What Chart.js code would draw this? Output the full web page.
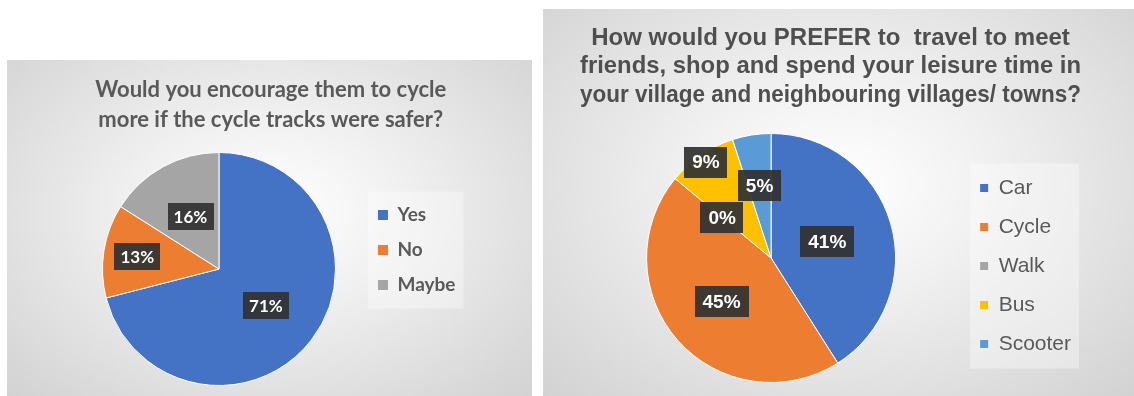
<!DOCTYPE html>
<html>
<head>
<meta charset="utf-8">
<script src="https://cdn.jsdelivr.net/npm/chart.js@4.4.1/dist/chart.umd.min.js"></script>
<style>
  html, body { margin: 0; padding: 0; background: #fff; }
  body { width: 1134px; height: 396px; position: relative; overflow: hidden; }
  .box { position: absolute; background: radial-gradient(ellipse at 50% 45%, #ffffff 0%, #f1f1f1 35%, #d2d2d2 100%); }
  .box canvas { display: block; }
  #boxLeft { left: 7px; top: 60px; width: 525px; height: 336px; }
  #boxRight { left: 543px; top: 9px; width: 591px; height: 387px; }
</style>
</head>
<body>
<div class="box" id="boxLeft"><canvas id="chartLeft" width="525" height="336"></canvas></div>
<div class="box" id="boxRight"><canvas id="chartRight" width="591" height="387"></canvas></div>
<script>
// left chart data
const encourageTitle  = ['Would you encourage them to cycle', 'more if the cycle tracks were safer?'];
const encourageLabels = ['Yes', 'No', 'Maybe'];
const encourageValues = [71, 13, 16];

// right chart data
const preferTitle  = ['How would you PREFER to  travel to meet', 'friends, shop and spend your leisure time in', 'your village and neighbouring villages/ towns?'];
const preferLabels = ['Car', 'Cycle', 'Walk', 'Bus', 'Scooter'];
const preferValues = [41, 45, 0, 9, 5];

// office palette
const officeColors = ['#4472C4', '#ED7D31', '#A5A5A5', '#FFC000', '#5B9BD5'];

// where the % boxes sit, as part of the radius
const encourageLabelPos = [0.51, 0.71, 0.51];
const preferLabelPos    = [0.47, 0.53, 0.51, 0.93, 0.59];

// legend squares without the white border
function noStroke(chart) {
	return Chart.overrides.doughnut.plugins.legend.labels.generateLabels(chart).map(function(item) {
		item.lineWidth = 0;
		return item;
	});
}

// faint panel behind the legend
const legendPanel = {
	id: 'legendPanel',
	beforeDraw(chart) {
		let boxes = chart.legend && chart.legend.legendHitBoxes;
		if (!boxes || !boxes.length) return;
		let left = Math.min.apply(null, boxes.map(b => b.left)) - 10;
		let right = Math.max.apply(null, boxes.map(b => b.left + b.width)) + 8;
		let last = boxes[boxes.length - 1];
		let top = boxes[0].top - 14;
		let bottom = last.top + last.height + 14;
		let ctx = chart.ctx;
		ctx.save();
		ctx.fillStyle = 'rgba(255,255,255,0.35)';
		ctx.fillRect(left, top, right - left, bottom - top);
		ctx.restore();
	}
};

// dark boxes with the percentages
function sliceLabels(family, size, padX, padY, positions) {
	return {
		id: 'sliceLabels',
		afterDatasetsDraw(chart) {
			let ctx = chart.ctx;
			let values = chart.data.datasets[0].data;
			let total = values.reduce((a, b) => a + b, 0);
			ctx.save();
			ctx.font = 'bold ' + size + 'px "' + family + '"';
			ctx.textAlign = 'center';
			ctx.textBaseline = 'middle';
			chart.getDatasetMeta(0).data.forEach(function(arc, i) {
				let p = arc.getProps(['x', 'y', 'startAngle', 'endAngle', 'outerRadius']);
				let mid = (p.startAngle + p.endAngle) / 2;
				let r = p.outerRadius * positions[i];
				let x = p.x + Math.cos(mid) * r;
				let y = p.y + Math.sin(mid) * r;
				let text = Math.round(values[i] / total * 100) + '%';
				let w = ctx.measureText(text).width + padX * 2;
				let h = size + padY * 2;
				ctx.fillStyle = 'rgba(50,50,50,0.93)';
				ctx.fillRect(Math.round(x - w / 2), Math.round(y - h / 2), Math.round(w), h);
				ctx.fillStyle = '#ffffff';
				ctx.fillText(text, x, y + 1);
			});
			ctx.restore();
		}
	};
}

new Chart(document.getElementById('chartLeft'), {
	type: 'pie',
	data: {
		labels: encourageLabels,
		datasets: [{
			data: encourageValues,
			backgroundColor: officeColors.slice(0, 3),
			borderColor: '#ffffff',
			borderWidth: 1
		}]
	},
	options: {
		responsive: false,
		animation: false,
		layout: { padding: { left: 69, right: 66.5, top: 0, bottom: 10 } },
		plugins: {
			title: {
				display: true,
				text: encourageTitle,
				color: '#595959',
				font: { family: 'Lato', size: 22, weight: 'bold', lineHeight: 30 / 22 },
				padding: { top: 15, bottom: 17 }
			},
			legend: {
				position: 'right',
				align: 'start',
				title: { display: true, text: '', padding: { top: 119.5, bottom: 0 }, font: { size: 10, lineHeight: 1 } },
				labels: {
					boxWidth: 10,
					boxHeight: 10,
					padding: 16,
					color: '#595959',
					font: { family: 'Lato', size: 19, weight: 'bold' },
					generateLabels: noStroke
				}
			},
			tooltip: { enabled: false }
		}
	},
	plugins: [legendPanel, sliceLabels('Lato', 17, 6, 5, encourageLabelPos)]
});

new Chart(document.getElementById('chartRight'), {
	type: 'pie',
	data: {
		labels: preferLabels,
		datasets: [{
			data: preferValues,
			backgroundColor: officeColors,
			borderColor: '#ffffff',
			borderWidth: 1
		}]
	},
	options: {
		responsive: false,
		animation: false,
		layout: { padding: { left: 37, right: 53, top: 0, bottom: 13 } },
		plugins: {
			title: {
				display: true,
				text: preferTitle,
				color: '#4f4f4f',
				font: { family: 'Liberation Sans', size: 24, weight: 'bold', lineHeight: 28.5 / 24 },
				padding: { top: 14.75, bottom: 23.75 }
			},
			legend: {
				position: 'right',
				align: 'start',
				title: { display: true, text: '', padding: { top: 140.5, bottom: 0 }, font: { size: 10, lineHeight: 1 } },
				labels: {
					boxWidth: 8,
					boxHeight: 8,
					padding: 18,
					color: '#595959',
					font: { family: 'Liberation Sans', size: 21, weight: 'normal' },
					generateLabels: noStroke
				}
			},
			tooltip: { enabled: false }
		}
	},
	plugins: [legendPanel, sliceLabels('Liberation Sans', 19, 8, 6, preferLabelPos)]
});
</script>
</body>
</html>
